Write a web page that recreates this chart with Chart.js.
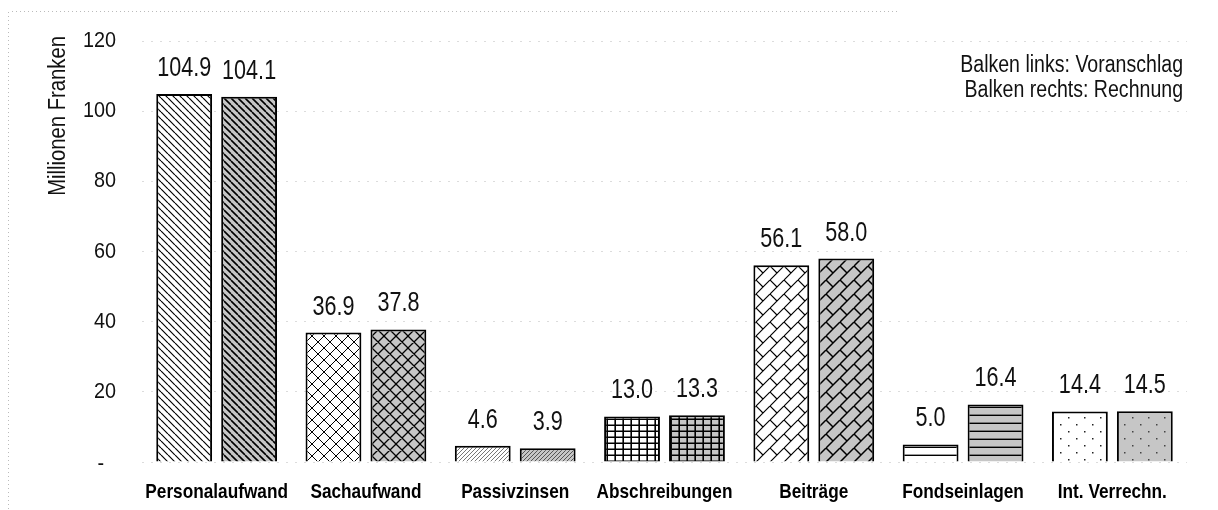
<!DOCTYPE html>
<html>
<head>
<meta charset="utf-8">
<script src="https://cdn.jsdelivr.net/npm/chart.js@4/dist/chart.umd.min.js"></script>
<style>
  html, body { margin: 0; padding: 0; background: #fff; }
  #wrap { width: 1218px; height: 510px; position: relative; }
</style>
</head>
<body>
<div id="wrap"><canvas id="grafico"></canvas></div>
<script>
// Daten
const kategorien = ['Personalaufwand', 'Sachaufwand', 'Passivzinsen', 'Abschreibungen', 'Beiträge', 'Fondseinlagen', 'Int. Verrechn.'];
const voranschlag = [104.9, 36.9, 4.6, 13.0, 56.1, 5.0, 14.4];
const rechnung = [104.1, 37.8, 3.9, 13.3, 58.0, 16.4, 14.5];
const yTicks = [0, 20, 40, 60, 80, 100, 120];
const legendeZeilen = ['Balken links: Voranschlag', 'Balken rechts: Rechnung'];
const mustertypen = ['diagonal', 'raute', 'fein', 'gitter', 'ziegel', 'waagrecht', 'punkte'];

// keine Narrow-Schrift installiert -> Liberation Sans horizontal gestaucht
const SCHRIFT = "'Liberation Sans', Arial, sans-serif";

function schmalText(ctx, text, x, y, align, sx) {
    ctx.save();
    ctx.translate(x, y);
    ctx.scale(sx, 1);
    ctx.textAlign = align;
    ctx.fillText(text, 0, 0);
    ctx.restore();
}

// Schraffur als Canvas-Muster
function muster(typ, grau) {
    const c = document.createElement('canvas');
    let w = 8, h = 8;
    if (typ === 'diagonal') { w = h = 7; }
    if (typ === 'raute') { w = h = 12; }
    if (typ === 'fein') { w = h = 4; }
    if (typ === 'gitter') { w = 8; h = 6; }
    if (typ === 'ziegel') { w = h = 14; }
    if (typ === 'waagrecht') { w = 8; h = 8; }
    if (typ === 'punkte') { w = 16; h = 14; }
    c.width = w; c.height = h;
    const ctx = c.getContext('2d');
    ctx.fillStyle = grau ? '#c6c6c6' : '#ffffff';
    ctx.fillRect(0, 0, w, h);
    ctx.strokeStyle = '#000';
    ctx.fillStyle = '#000';
    ctx.lineWidth = grau ? 1.6 : 1.2;
    ctx.beginPath();
    if (typ === 'diagonal') {
        [-w, 0, w].forEach(k => { ctx.moveTo(k, 0); ctx.lineTo(k + w, h); });
    } else if (typ === 'raute') {
        ctx.lineWidth = grau ? 1.3 : 1;
        [-w, 0, w].forEach(k => {
            ctx.moveTo(k, 0); ctx.lineTo(k + w, h);
            ctx.moveTo(k, h); ctx.lineTo(k + w, 0);
        });
    } else if (typ === 'fein') {
        ctx.strokeStyle = grau ? '#555' : '#777';
        ctx.lineWidth = 1;
        [-w, 0, w].forEach(k => { ctx.moveTo(k, h); ctx.lineTo(k + w, 0); });
    } else if (typ === 'gitter') {
        ctx.lineWidth = 1.6;
        ctx.moveTo(w - 0.8, 0); ctx.lineTo(w - 0.8, h);
        ctx.moveTo(0, h - 0.8); ctx.lineTo(w, h - 0.8);
    } else if (typ === 'ziegel') {
        ctx.lineWidth = grau ? 1.5 : 1.2;
        [-w, 0, w].forEach(k => { ctx.moveTo(k, h); ctx.lineTo(k + w, 0); });
        ctx.moveTo(0, 0); ctx.lineTo(w / 2, h / 2);
    } else if (typ === 'waagrecht') {
        ctx.lineWidth = 1.4;
        ctx.moveTo(0, h - 0.7); ctx.lineTo(w, h - 0.7);
    }
    ctx.stroke();
    if (typ === 'punkte') {
        ctx.fillStyle = grau ? '#444' : '#222';
        ctx.fillRect(4, 4, 1.5, 1.5);
        ctx.fillRect(12, 11, 1.5, 1.5);
    }
    return ctx.createPattern(c, 'repeat');
}

const musterLinks = mustertypen.map(t => muster(t, false));
const musterRechts = mustertypen.map(t => muster(t, true));

// Werte über den Balken
const werteBeschriftung = {
    id: 'werteBeschriftung',
    afterDatasetsDraw(chart) {
        const ctx = chart.ctx;
        ctx.save();
        ctx.font = '27px ' + SCHRIFT;
        ctx.fillStyle = '#111';
        ctx.textBaseline = 'alphabetic';
        chart.data.datasets.forEach((ds, i) => {
            chart.getDatasetMeta(i).data.forEach((bar, j) => {
                schmalText(ctx, ds.data[j].toFixed(1), bar.x, bar.y - 18, 'center', 0.8);
            });
        });
        ctx.restore();
    }
};

// Achsenbeschriftungen, Hinweis oben rechts und gepunkteter Rahmen
const beschriftung = {
    id: 'beschriftung',
    afterDraw(chart) {
        const ctx = chart.ctx;
        const xs = chart.scales.x, ys = chart.scales.y;
        ctx.save();
        ctx.fillStyle = '#111';
        ctx.textBaseline = 'middle';

        ctx.font = '22px ' + SCHRIFT;
        yTicks.forEach(v => {
            const y = ys.getPixelForValue(v);
            if (v === 0) schmalText(ctx, '-', 104, y + 2, 'right', 0.9);
            else schmalText(ctx, String(v), 116, y, 'right', 0.9);
        });

        ctx.font = 'bold 21px ' + SCHRIFT;
        ctx.fillStyle = '#000';
        kategorien.forEach((k, i) => schmalText(ctx, k, xs.getPixelForValue(i), 492, 'center', 0.82));

        ctx.fillStyle = '#111';
        ctx.font = '23px ' + SCHRIFT;
        legendeZeilen.forEach((z, i) => schmalText(ctx, z, 1183, 66 + i * 25, 'right', 0.85));

        ctx.save();
        ctx.translate(59, 36);
        ctx.rotate(-Math.PI / 2);
        ctx.font = '23px ' + SCHRIFT;
        schmalText(ctx, 'Millionen Franken', 0, 0, 'right', 0.88);
        ctx.restore();

        ctx.strokeStyle = '#bbb';
        ctx.lineWidth = 1;
        ctx.setLineDash([1, 3]);
        ctx.beginPath();
        ctx.moveTo(8.5, 12); ctx.lineTo(8.5, 510);
        ctx.moveTo(12, 11.5); ctx.lineTo(900, 11.5);
        ctx.stroke();
        ctx.restore();
    }
};

const ctx = document.getElementById('grafico').getContext('2d');
new Chart(ctx, {
    type: 'bar',
    data: {
        labels: kategorien,
        datasets: [{
            label: 'Voranschlag',
            data: voranschlag,
            backgroundColor: musterLinks,
            borderColor: '#000',
            borderWidth: 2
        }, {
            label: 'Rechnung',
            data: rechnung,
            backgroundColor: musterRechts,
            borderColor: '#000',
            borderWidth: 2
        }]
    },
    options: {
        responsive: true,
        maintainAspectRatio: false,
        animation: false,
        categoryPercentage: 0.87,
        barPercentage: 0.86,
        layout: { padding: { left: 0, right: 31, top: 41, bottom: 0 } },
        plugins: {
            legend: { display: false },
            tooltip: { enabled: false }
        },
        scales: {
            x: {
                grid: { display: false, drawTicks: false },
                border: { display: false },
                ticks: { display: false },
                afterFit(scale) { scale.height = 48; }
            },
            y: {
                min: 0,
                max: 120,
                afterBuildTicks(scale) { scale.ticks = yTicks.map(v => ({ value: v })); },
                grid: {
                    color: '#dcdcdc',
                    drawTicks: false,
                    lineWidth: 1
                },
                border: { display: false, dash: [2, 7] },
                ticks: { display: false },
                afterFit(scale) { scale.width = 142; }
            }
        }
    },
    plugins: [werteBeschriftung, beschriftung]
});
</script>
</body>
</html>
